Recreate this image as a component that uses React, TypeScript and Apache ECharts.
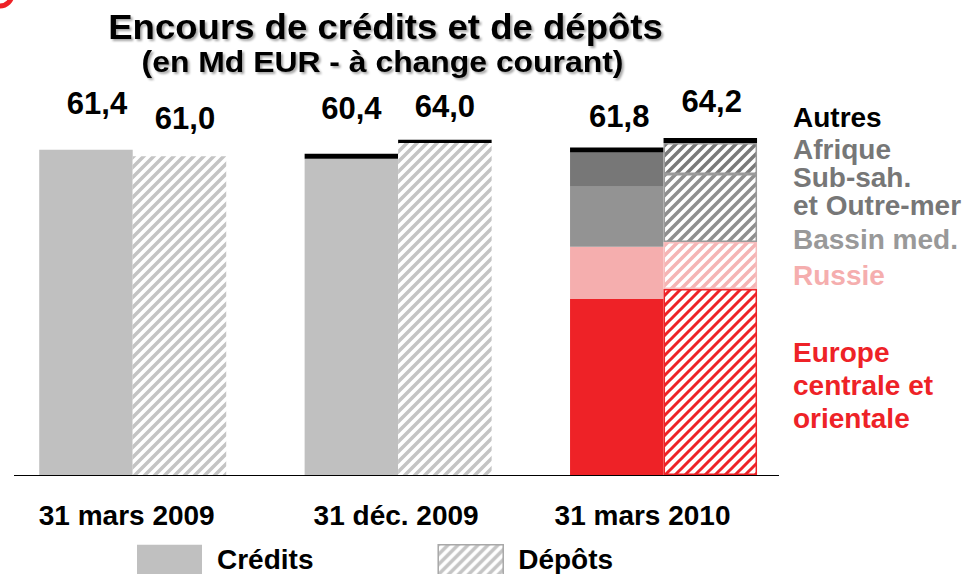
import { useEffect, useRef } from 'react';
import * as echarts from 'echarts';

// ---------- data (Md EUR) ----------
const categories = ['31 mars 2009', '31 déc. 2009', '31 mars 2010'];

// Crédits stack
const creditsBase = [61.7, 60.0, null];
const creditsEurope = [null, null, 33.4];
const creditsRussie = [null, null, 9.9];
const creditsBassin = [null, null, 11.4];
const creditsAfrique = [null, null, 6.5];
const creditsAutres = [0, 0.95, 0.95];

// Dépôts stack
const depositsBase = [60.5, 44.0, null];
const depositsBaseUpper = [null, 19.0, null];
const depositsEurope = [null, null, 35.3];
const depositsRussie = [null, null, 8.9];
const depositsBassin = [null, null, 12.9];
const depositsAfrique = [null, null, 5.9];
const depositsAutres = [0, 0.6, 0.95];

// total labels
const creditsTotals = ['61,4', '60,4', '61,8'];
const depositsTotals = ['61,0', '64,0', '64,2'];

// region legend texts
const legendAutres = 'Autres';
const legendAfrique = 'Afrique\nSub-sah.\net Outre-mer';
const legendBassin = 'Bassin med.';
const legendRussie = 'Russie';
const legendEurope = 'Europe\ncentrale et\norientale';

const titleText = 'Encours de crédits et de dépôts';
const subtitleText = '(en Md EUR - à change courant)';

// ---------- styles / positions ----------
const FONT = "'Liberation Sans', Arial, Helvetica, sans-serif";
const C_LIGHT = '#c0c0c0';
const C_DARK = '#777777';
const C_MID = '#939393';
const C_PINK = '#f5aeae';
const C_RED = '#ee2227';
const BAR_W = 93.5;

const creditsLabelOffsets = [[11, -30.5], [0, -30], [2.5, -15]];
const depositsLabelOffsets = [[5.5, -22.5], [0, -17.5], [1.5, -20.5]];
const catLabelPadding = [[0, 12, 0, 0], [0, 4, 0, 0], [0, 42, 0, 0]];

function hatch(color: string, size = 10, lw = 3.5) {
  const c = document.createElement('canvas');
  c.width = size;
  c.height = size;
  const ctx = c.getContext('2d') as CanvasRenderingContext2D;
  ctx.fillStyle = '#ffffff';
  ctx.fillRect(0, 0, size, size);
  ctx.strokeStyle = color;
  ctx.lineWidth = lw;
  ctx.beginPath();
  ctx.moveTo(-2, size + 2);
  ctx.lineTo(size + 2, -2);
  ctx.moveTo(-size, size);
  ctx.lineTo(size, -size);
  ctx.moveTo(0, 2 * size);
  ctx.lineTo(2 * size, 0);
  ctx.stroke();
  return { image: c, repeat: 'repeat', imageWidth: size, imageHeight: size } as any;
}

export default function App() {
  const ref = useRef<HTMLDivElement>(null);

  useEffect(() => {
    if (!ref.current) return;
    const chart = echarts.init(ref.current, null, { renderer: 'svg' });

    const hLight = hatch('#c4c4c4');
    const hDark = hatch('#7a7a7a');
    const hMid = hatch('#8f8f8f');
    const hPink = hatch('#f5b4b4');
    const hRed = hatch(C_RED, 10, 3);

    const base = {
      type: 'bar' as const,
      barWidth: BAR_W,
      barGap: '0%',
      emphasis: { disabled: true },
    };
    const solid = (name: string, stack: string, data: any[], color: string) => ({
      ...base, name, stack, data, itemStyle: { color },
    });
    const hatched = (name: string, stack: string, data: any[], pattern: any, border?: string) => ({
      ...base, name, stack, data,
      itemStyle: border ? { color: pattern, borderColor: border, borderWidth: 1.5 } : { color: pattern },
    });
    const totalLabel = (totals: string[]) => ({
      show: true,
      position: 'top',
      distance: 0,
      color: '#000',
      fontSize: 31,
      fontWeight: 'bold',
      fontFamily: FONT,
      formatter: (p: any) => totals[p.dataIndex],
    });

    const legendText = (text: string, y: number, color: string, lh: number) => ({
      type: 'text',
      silent: true,
      style: {
        text, x: 793, y, fill: color,
        font: `bold 28px ${FONT}`,
        align: 'left', verticalAlign: 'top', lineHeight: lh,
      },
    });

    const shadowText = (text: string, x: number, y: number, size: number, sx: number) => ({
      type: 'text', silent: true,
      x, y, scaleX: sx,
      style: {
        text, x: 0, y: 0, fill: '#000',
        font: `bold ${size}px ${FONT}`, align: 'center', verticalAlign: 'middle',
        textShadowColor: 'rgba(0,0,0,0.35)', textShadowBlur: 2, textShadowOffsetX: 2, textShadowOffsetY: 2,
      },
    });

    const option: any = {
      animation: false,
      backgroundColor: '#ffffff',
      grid: { left: -3.25, top: 106.1, width: 799.5, height: 368.9 },
      xAxis: {
        type: 'category',
        data: categories.map((c, i) => ({ value: c, textStyle: { padding: catLabelPadding[i] } })),
        axisLine: { show: false },
        axisTick: { show: false },
        axisLabel: {
          margin: 26, color: '#000', fontSize: 28, fontWeight: 'bold', fontFamily: FONT,
        },
      },
      yAxis: { type: 'value', min: 0, max: 70, show: false },
      legend: {
        data: [
          { name: 'Crédits', itemStyle: { color: C_LIGHT } },
          { name: 'Dépôts', itemStyle: { color: hLight, borderColor: '#a8a8a8', borderWidth: 1.5 } },
        ],
        left: 137, top: 544, padding: 0,
        icon: 'rect', itemWidth: 65, itemHeight: 30, itemGap: 124,
        selectedMode: false,
        textStyle: { color: '#000', fontSize: 28, lineHeight: 28, fontWeight: 'bold', fontFamily: FONT, padding: [0, 0, 0, 10] },
      },
      series: [
        solid('Crédits', 'c', creditsBase, C_LIGHT),
        solid('Europe centrale et orientale', 'c', creditsEurope, C_RED),
        solid('Russie', 'c', creditsRussie, C_PINK),
        solid('Bassin med.', 'c', creditsBassin, C_MID),
        solid('Afrique Sub-sah. et Outre-mer', 'c', creditsAfrique, C_DARK),
        {
          ...solid('Autres', 'c', creditsAutres.map((v, i) => ({ value: v, label: { offset: creditsLabelOffsets[i] } })), '#000'),
          label: totalLabel(creditsTotals),
        },
        hatched('Dépôts', 'd', depositsBase, hLight),
        hatched('Dépôts (suite)', 'd', depositsBaseUpper, hLight),
        hatched('Dépôts Europe centrale et orientale', 'd', depositsEurope, hRed, C_RED),
        hatched('Dépôts Russie', 'd', depositsRussie, hPink, '#f7bcbc'),
        hatched('Dépôts Bassin med.', 'd', depositsBassin, hMid, '#9a9a9a'),
        hatched('Dépôts Afrique Sub-sah. et Outre-mer', 'd', depositsAfrique, hDark, '#9a9a9a'),
        {
          ...solid('Dépôts Autres', 'd', depositsAutres.map((v, i) => ({ value: v, label: { offset: depositsLabelOffsets[i] } })), '#000'),
          label: totalLabel(depositsTotals),
        },
      ],
      graphic: [
        {
          type: 'arc', silent: true,
          shape: { cx: 0, cy: -6, r: 12, startAngle: 0, endAngle: Math.PI / 2 },
          style: { stroke: C_RED, lineWidth: 5, fill: 'none' },
        },
        shadowText(titleText, 385.5, 27, 35, 1.045),
        shadowText(subtitleText, 382.5, 62, 29, 1.1),
        {
          type: 'line', silent: true,
          shape: { x1: 14, y1: 475.5, x2: 779, y2: 475.5 },
          style: { stroke: '#000', lineWidth: 1.2 },
        },
        legendText(legendAutres, 103, '#000', 28),
        legendText(legendAfrique, 135, C_DARK, 28),
        legendText(legendBassin, 225, '#999999', 28),
        legendText(legendRussie, 261, C_PINK, 28),
        legendText(legendEurope, 335.5, C_RED, 33),
      ],
    };

    chart.setOption(option);
    return () => chart.dispose();
  }, []);

  return (
    <div
      ref={ref}
      style={{ position: 'absolute', left: 0, top: 0, width: 969, height: 574, background: '#fff' }}
    />
  );
}
